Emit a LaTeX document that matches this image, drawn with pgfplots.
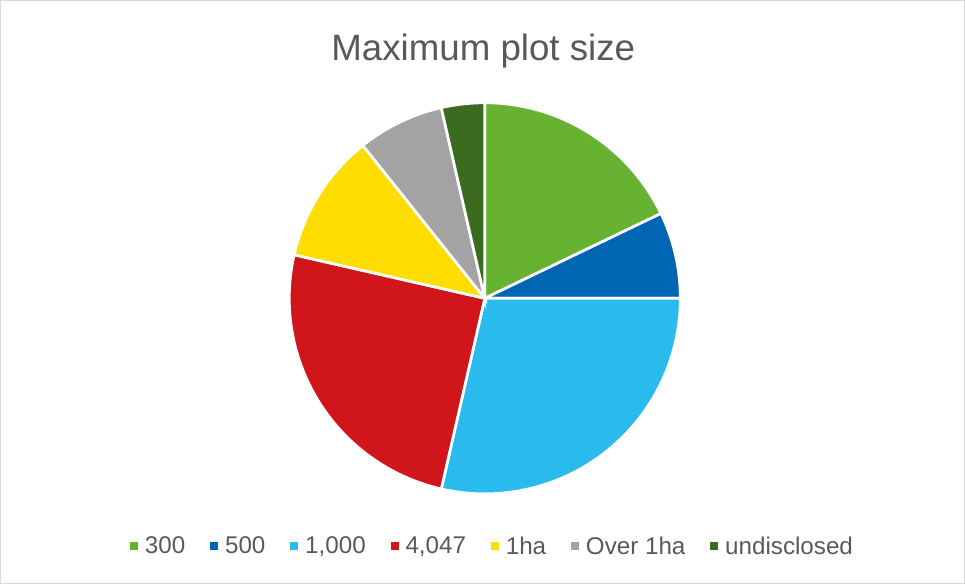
\documentclass[border=0pt]{standalone}
\usepackage{fontspec}
\setmainfont{Liberation Sans}
\usepackage{pgfplots}
\pgfplotsset{compat=1.18}
\definecolor{cA}{HTML}{67B230}
\definecolor{cB}{HTML}{0066B3}
\definecolor{cC}{HTML}{29BBEE}
\definecolor{cD}{HTML}{D0161A}
\definecolor{cE}{HTML}{FFDD00}
\definecolor{cF}{HTML}{A3A3A3}
\definecolor{cG}{HTML}{3A6B1F}
\definecolor{txt}{HTML}{595959}
\definecolor{frame}{HTML}{D9D9D9}
\begin{document}
\begin{tikzpicture}
% counts per category: 300, 500, 1,000, 4,047, 1ha, Over 1ha, undisclosed
\pgfmathsetmacro\tot{5+2+8+7+3+2+1}
\pgfmathsetmacro\aA{0}
\pgfmathsetmacro\aB{\aA+5*360/\tot}
\pgfmathsetmacro\aC{\aB+2*360/\tot}
\pgfmathsetmacro\aD{\aC+8*360/\tot}
\pgfmathsetmacro\aE{\aD+7*360/\tot}
\pgfmathsetmacro\aF{\aE+3*360/\tot}
\pgfmathsetmacro\aG{\aF+2*360/\tot}
\pgfmathsetmacro\aH{\aG+1*360/\tot}
\begin{axis}[
  x=0.75pt, y=0.75pt,
  xmin=0, xmax=965, ymin=0, ymax=581,
  hide axis, clip=false,
  title={Maximum plot size},
  title style={at={(axis cs:485,521)}, anchor=center, yshift=0pt, font=\fontsize{27.3}{30}\selectfont, text=txt},
  legend columns=7,
  legend image code/.code={\fill[#1,draw=none] (0pt,-3pt) rectangle (6pt,3pt);},
  legend style={at={(axis cs:494.5,38)}, anchor=center, draw=none, fill=none,
    font=\fontsize{18}{21}\selectfont, text=txt,
    /tikz/every odd column/.append style={column sep=3.1pt},
    /tikz/every even column/.append style={column sep=16.5pt}},
  every axis plot/.append style={draw=white, line width=2pt, samples=90},
]
\draw[frame, line width=0.75pt] (axis cs:6,1.5) rectangle (axis cs:962.5,579.5);
\addplot[fill=cA, domain=\aA:\aB] ({486.5+194*sin(x)},{284+194*cos(x)}) -- (axis cs:486.5,284) -- cycle;
\addlegendentry{300}
\addplot[fill=cB, domain=\aB:\aC] ({486.5+194*sin(x)},{284+194*cos(x)}) -- (axis cs:486.5,284) -- cycle;
\addlegendentry{500}
\addplot[fill=cC, domain=\aC:\aD] ({486.5+194*sin(x)},{284+194*cos(x)}) -- (axis cs:486.5,284) -- cycle;
\addlegendentry{1,000}
\addplot[fill=cD, domain=\aD:\aE] ({486.5+194*sin(x)},{284+194*cos(x)}) -- (axis cs:486.5,284) -- cycle;
\addlegendentry{4,047}
\addplot[fill=cE, domain=\aE:\aF] ({486.5+194*sin(x)},{284+194*cos(x)}) -- (axis cs:486.5,284) -- cycle;
\addlegendentry{1ha}
\addplot[fill=cF, domain=\aF:\aG] ({486.5+194*sin(x)},{284+194*cos(x)}) -- (axis cs:486.5,284) -- cycle;
\addlegendentry{Over 1ha}
\addplot[fill=cG, domain=\aG:\aH] ({486.5+194*sin(x)},{284+194*cos(x)}) -- (axis cs:486.5,284) -- cycle;
\addlegendentry{undisclosed}
\end{axis}
\end{tikzpicture}
\end{document}
